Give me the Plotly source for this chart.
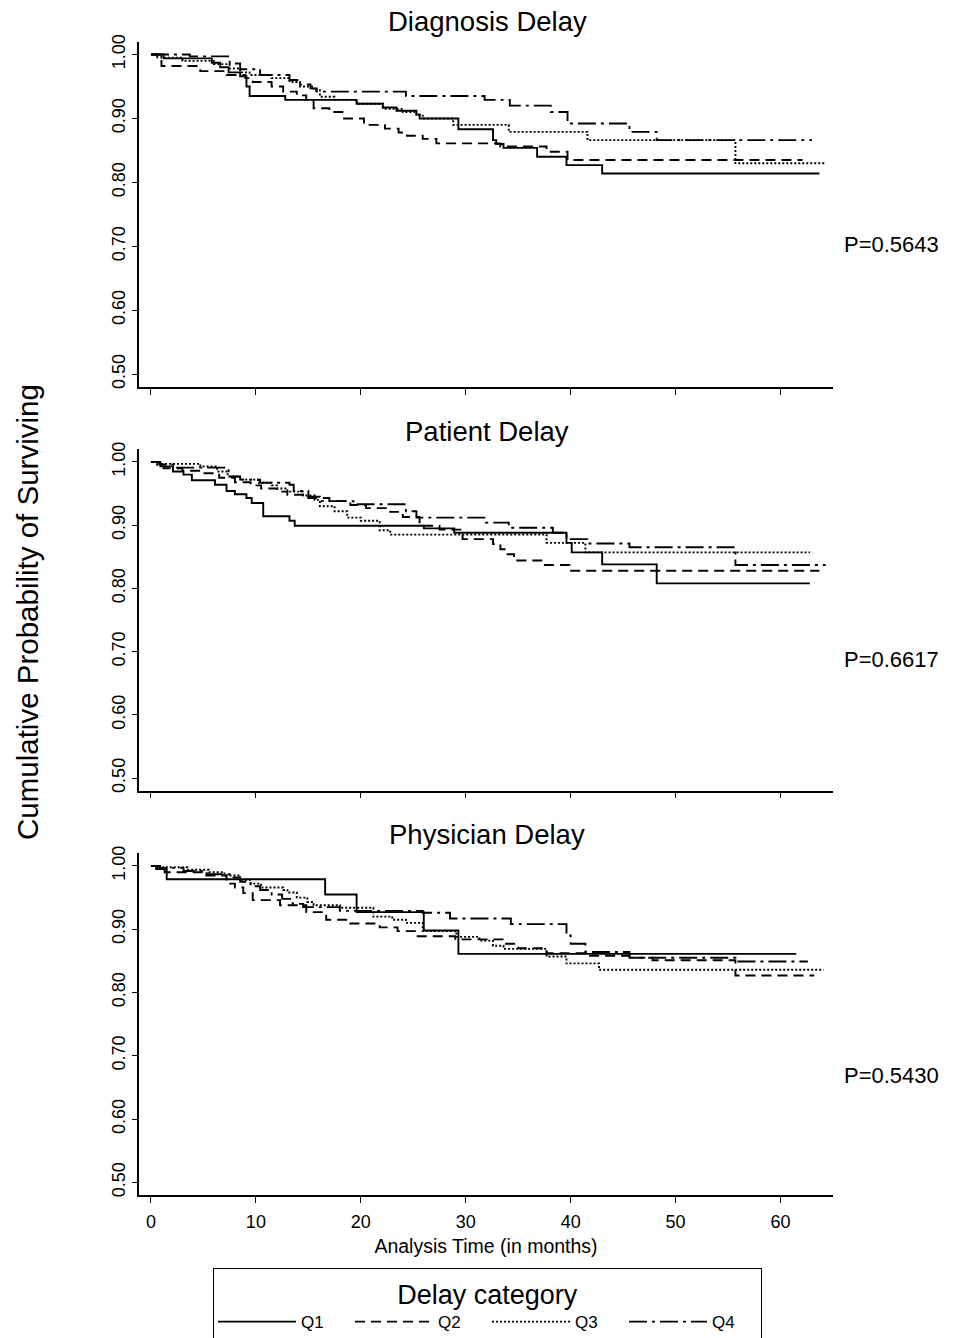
import plotly.graph_objects as go

# ---------------- data ----------------
categories = ["Q1", "Q2", "Q3", "Q4"]
panel_titles = ["Diagnosis Delay", "Patient Delay", "Physician Delay"]
p_values = ["P=0.5643", "P=0.6617", "P=0.5430"]
x_ticks = [0, 10, 20, 30, 40, 50, 60]
y_ticks = [0.50, 0.60, 0.70, 0.80, 0.90, 1.00]

# Diagnosis delay
diag_q1_t = [0, 1.2, 5.8, 6.6, 7.4, 8.5, 9.1, 9.4, 12.8, 19.6, 22.1, 23.4, 25.3, 25.6, 29.3, 32.6, 32.9, 33.6, 36.8, 39.6, 43.0, 63.7]
diag_q1_s = [1.0, 0.994, 0.987, 0.980, 0.972, 0.966, 0.950, 0.935, 0.929, 0.923, 0.917, 0.912, 0.906, 0.900, 0.883, 0.866, 0.860, 0.854, 0.840, 0.827, 0.814, 0.814]
diag_q2_t = [0, 0.6, 1.0, 4.7, 7.2, 9.0, 9.7, 11.5, 12.6, 13.9, 14.8, 15.5, 17.0, 18.4, 20.3, 22.3, 23.6, 24.4, 25.9, 27.2, 33.3, 37.7, 39.7, 62.1]
diag_q2_s = [1.0, 0.993, 0.982, 0.974, 0.968, 0.963, 0.957, 0.950, 0.942, 0.936, 0.929, 0.916, 0.910, 0.900, 0.890, 0.884, 0.878, 0.873, 0.868, 0.861, 0.856, 0.848, 0.835, 0.835]
diag_q3_t = [0, 1.0, 3.0, 6.0, 7.5, 8.5, 9.4, 11.5, 13.2, 14.2, 15.5, 16.1, 17.5, 19.6, 22.1, 24.0, 25.3, 25.9, 28.8, 34.1, 41.6, 55.7, 64.3]
diag_q3_s = [1.0, 0.995, 0.990, 0.985, 0.978, 0.972, 0.968, 0.963, 0.957, 0.950, 0.944, 0.934, 0.929, 0.923, 0.915, 0.910, 0.906, 0.900, 0.890, 0.879, 0.866, 0.830, 0.830]
diag_q4_t = [0, 3.7, 7.5, 8.5, 10.4, 13.2, 14.2, 15.2, 15.8, 24.3, 31.8, 34.2, 38.1, 39.7, 45.6, 48.2, 63.0]
diag_q4_s = [1.0, 0.997, 0.986, 0.977, 0.968, 0.960, 0.953, 0.947, 0.942, 0.935, 0.929, 0.920, 0.910, 0.892, 0.879, 0.866, 0.866]

# Patient delay
pat_q1_t = [0, 0.9, 2.1, 3.1, 3.9, 6.1, 7.2, 8.0, 9.1, 9.6, 10.7, 13.2, 13.7, 26.0, 28.9, 39.6, 40.1, 43.0, 48.2, 62.8]
pat_q1_s = [1.0, 0.993, 0.985, 0.980, 0.971, 0.964, 0.954, 0.949, 0.943, 0.935, 0.914, 0.907, 0.899, 0.895, 0.888, 0.872, 0.857, 0.838, 0.808, 0.808]
pat_q2_t = [0, 0.6, 1.2, 3.0, 5.0, 6.5, 8.0, 9.5, 10.5, 12.0, 13.0, 15.0, 17.0, 19.0, 20.5, 22.8, 24.0, 25.6, 27.5, 29.7, 32.6, 33.3, 33.7, 34.6, 37.2, 39.9, 63.7]
pat_q2_s = [1.0, 0.995, 0.990, 0.986, 0.982, 0.975, 0.968, 0.963, 0.958, 0.953, 0.948, 0.943, 0.938, 0.932, 0.927, 0.921, 0.913, 0.899, 0.893, 0.878, 0.870, 0.862, 0.854, 0.844, 0.837, 0.828, 0.828]
pat_q3_t = [0, 1.0, 4.7, 6.3, 7.3, 8.5, 10.2, 11.5, 12.0, 13.0, 14.5, 15.6, 16.1, 17.5, 18.7, 20.0, 21.8, 22.8, 37.7, 41.4, 62.8]
pat_q3_s = [1.0, 0.997, 0.993, 0.985, 0.977, 0.972, 0.967, 0.963, 0.958, 0.953, 0.947, 0.940, 0.930, 0.922, 0.912, 0.907, 0.892, 0.885, 0.872, 0.857, 0.857]
pat_q4_t = [0, 0.8, 2.4, 7.4, 8.5, 10.4, 13.2, 13.6, 15.0, 16.1, 19.3, 24.3, 25.3, 31.9, 34.1, 38.3, 39.6, 41.6, 45.6, 55.7, 64.3]
pat_q4_s = [1.0, 0.996, 0.991, 0.977, 0.972, 0.967, 0.964, 0.954, 0.945, 0.938, 0.933, 0.922, 0.912, 0.904, 0.896, 0.888, 0.878, 0.871, 0.865, 0.837, 0.837]

# Physician delay
phy_q1_t = [0, 0.5, 1.5, 16.6, 19.6, 26.0, 29.3, 61.5]
phy_q1_s = [1.0, 0.995, 0.979, 0.955, 0.927, 0.898, 0.861, 0.861]
phy_q2_t = [0, 0.6, 1.3, 5.0, 7.2, 8.0, 8.8, 9.7, 12.3, 14.8, 16.7, 19.0, 21.8, 23.5, 25.3, 29.0, 33.7, 35.0, 37.7, 41.4, 45.6, 47.8, 55.7, 63.2]
phy_q2_s = [1.0, 0.995, 0.990, 0.985, 0.972, 0.966, 0.957, 0.946, 0.938, 0.927, 0.915, 0.909, 0.903, 0.897, 0.889, 0.884, 0.877, 0.870, 0.862, 0.858, 0.855, 0.851, 0.827, 0.827]
phy_q3_t = [0, 1.0, 3.5, 5.5, 7.0, 8.5, 9.5, 10.5, 12.6, 13.0, 13.9, 14.9, 15.5, 18.0, 21.2, 23.0, 24.3, 25.9, 29.1, 31.3, 32.6, 33.6, 37.7, 39.6, 42.7, 64.1]
phy_q3_s = [1.0, 0.998, 0.994, 0.990, 0.985, 0.978, 0.972, 0.966, 0.962, 0.958, 0.950, 0.943, 0.938, 0.934, 0.920, 0.915, 0.910, 0.897, 0.888, 0.882, 0.874, 0.869, 0.857, 0.846, 0.836, 0.836]
phy_q4_t = [0, 0.8, 3.1, 5.3, 7.5, 8.5, 9.5, 10.4, 11.5, 12.5, 13.5, 14.5, 18.0, 25.9, 28.5, 34.3, 39.6, 40.0, 41.4, 45.6, 55.7, 62.6]
phy_q4_s = [1.0, 0.997, 0.992, 0.987, 0.982, 0.975, 0.968, 0.962, 0.955, 0.948, 0.940, 0.935, 0.929, 0.926, 0.917, 0.908, 0.890, 0.877, 0.864, 0.855, 0.849, 0.849]

panels = [
    [(diag_q1_t, diag_q1_s), (diag_q2_t, diag_q2_s), (diag_q3_t, diag_q3_s), (diag_q4_t, diag_q4_s)],
    [(pat_q1_t, pat_q1_s), (pat_q2_t, pat_q2_s), (pat_q3_t, pat_q3_s), (pat_q4_t, pat_q4_s)],
    [(phy_q1_t, phy_q1_s), (phy_q2_t, phy_q2_s), (phy_q3_t, phy_q3_s), (phy_q4_t, phy_q4_s)],
]

# ---------------- styling ----------------
W, H = 967, 1338
ML, MR = 139, 134
PW = W - ML - MR
FONT = "Liberation Sans, Arial, Helvetica, sans-serif"
dash_styles = ["solid", "10px,6px", "2px,2px", "18px,5px,3px,5px"]
line_width = 1.9
x_range = [-1.14, 65]
y_range = [0.48, 1.02]
# vertical pixel extents of the three plot areas (top, bottom)
panel_px = [(41.7, 387.0), (449.3, 790.7), (853.3, 1195.0)]
title_px = [22, 431, 835]
pval_px = [244, 659, 1075]

fig = go.Figure()

for i, series in enumerate(panels):
    xa = "x" if i == 0 else f"x{i+1}"
    ya = "y" if i == 0 else f"y{i+1}"
    for j, (t, s) in enumerate(series):
        fig.add_trace(go.Scatter(
            x=t, y=s, mode="lines", line_shape="hv",
            line=dict(color="black", width=line_width, dash=dash_styles[j]),
            name=categories[j], legendgroup=categories[j],
            showlegend=(i == 0), xaxis=xa, yaxis=ya, hoverinfo="skip",
        ))

layout = dict(
    width=W, height=H,
    margin=dict(l=ML, r=MR, t=0, b=0, autoexpand=False),
    paper_bgcolor="white", plot_bgcolor="white",
    font=dict(family=FONT, color="black", size=17),
    showlegend=True,
)

for i in range(3):
    top, bot = panel_px[i]
    xkey = "xaxis" if i == 0 else f"xaxis{i+1}"
    ykey = "yaxis" if i == 0 else f"yaxis{i+1}"
    yname = "y" if i == 0 else f"y{i+1}"
    xname = "x" if i == 0 else f"x{i+1}"
    layout[xkey] = dict(
        domain=[0, 1], anchor=yname, range=x_range,
        tickvals=x_ticks, ticktext=[str(v) for v in x_ticks],
        showticklabels=(i == 2), ticks="outside", ticklen=6, tickwidth=1.2,
        tickcolor="black", showline=True, linecolor="black", linewidth=1.5,
        showgrid=False, zeroline=False, tickfont=dict(size=18),
        ticklabelstandoff=4, automargin=False,
    )
    layout[ykey] = dict(
        domain=[1 - bot / H, 1 - top / H], anchor=xname, range=y_range,
        tickvals=y_ticks, tickformat=".2f", tickangle=-90,
        ticks="outside", ticklen=5, tickwidth=1.2, tickcolor="black",
        showline=True, linecolor="black", linewidth=1.5,
        showgrid=False, zeroline=False, tickfont=dict(size=18),
        automargin=False,
    )

layout["xaxis3"]["title"] = dict(text="Analysis Time (in months)", font=dict(size=19.5), standoff=8)

annotations = []
for i in range(3):
    annotations.append(dict(
        text=panel_titles[i], xref="paper", yref="paper",
        x=(487 - ML) / PW, y=1 - title_px[i] / H,
        xanchor="center", yanchor="middle", showarrow=False,
        font=dict(size=27.5),
    ))
    annotations.append(dict(
        text=p_values[i], xref="paper", yref="paper",
        x=(842 - ML) / PW, y=1 - pval_px[i] / H,
        xanchor="left", yanchor="middle", showarrow=False,
        font=dict(size=22),
    ))
annotations.append(dict(
    text="Cumulative Probability of Surviving", xref="paper", yref="paper",
    x=(27 - ML) / PW, y=1 - 612 / H, textangle=-90,
    xanchor="center", yanchor="middle", showarrow=False, font=dict(size=29.5),
))
layout["annotations"] = annotations

layout["legend"] = dict(
    orientation="h",
    x=(213 - ML) / PW, y=1 - 1268 / H,
    xanchor="left", yanchor="top",
    bordercolor="black", borderwidth=1, bgcolor="white",
    title=dict(text="Delay category", side="top center", font=dict(size=27)),
    font=dict(size=17), entrywidth=44, entrywidthmode="pixels",
    itemwidth=78, tracegroupgap=0,
)

fig.update_layout(**layout)
fig.write_html("out.html")
